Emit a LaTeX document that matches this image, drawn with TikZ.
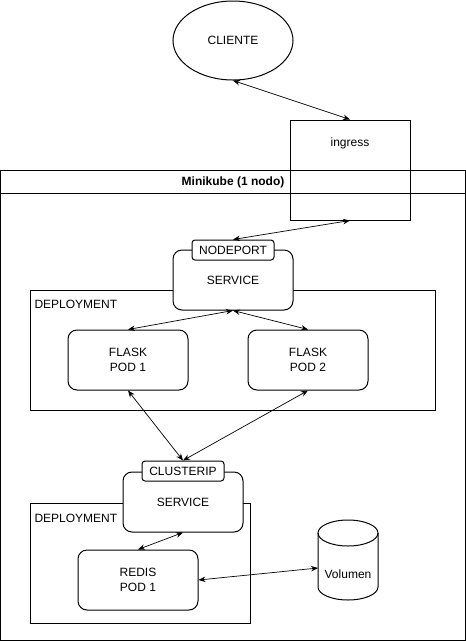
\documentclass[tikz,border=0pt]{standalone}
\usepackage{fontspec}
\setmainfont{Liberation Sans}
\usetikzlibrary{shapes.geometric,arrows.meta}
\begin{document}
\begin{tikzpicture}[x=1pt,y=-1pt,line width=1pt,font=\fontsize{12}{15}\selectfont]
	\tikzstyle{every node}+=[inner sep=0pt]
	\tikzstyle{box}=[draw,rounded corners=9pt,fill=white,minimum width=120pt,minimum height=60pt,align=center]
	\tikzstyle{tag}=[draw,rounded corners=3pt,fill=white,minimum width=82pt,minimum height=20pt]
	\tikzstyle{link}=[{Stealth[length=7pt,width=5.5pt]}-{Stealth[length=7pt,width=5.5pt]},line width=0.7pt]
	\useasboundingbox (0,0) rectangle (466,641);
	% minikube
	\draw (0.5,170.5) rectangle (465.5,640);
	\draw (0.5,193) -- (465.5,193);
	\node (minikube) at (233,182) {\bfseries Minikube (1 nodo)};
	% outside
	\node [draw,ellipse,minimum width=120pt,minimum height=79pt] (cliente) at (233,40.5) {CLIENTE};
	\node [draw,minimum width=120pt,minimum height=100pt] (ingress) at (350,170) {};
	\node (ingresstxt) at (350,143) {ingress};
	% flask
	\draw (30,290) rectangle (435,410);
	\node [anchor=west] (dep1) at (34,304) {DEPLOYMENT};
	\node [box] (svc1) at (233,280) {SERVICE};
	\node [tag] (nodeport) at (233,250) {NODEPORT};
	\node [box] (pod1) at (128,360) {FLASK\\POD 1};
	\node [box] (pod2) at (308,360) {FLASK\\POD 2};
	% redis
	\draw (30,503) rectangle (250,623);
	\node [anchor=west] (dep2) at (34,518) {DEPLOYMENT};
	\node [box] (svc2) at (183,502) {SERVICE};
	\node [tag] (clusterip) at (183,471) {CLUSTERIP};
	\node [box] (redis) at (138,580) {REDIS\\POD 1};
	% volumen
	\draw (318,533) -- (318,587) arc[start angle=180,end angle=360,x radius=30pt,y radius=13pt] -- (378,533);
	\draw (348,533) ellipse [x radius=30pt,y radius=13pt];
	\node (volumentxt) at (348,574) {Volumen};
	\coordinate (volumen) at (318,568);
	% links
	\draw [link] (cliente.south) -- (ingress.north);
	\draw [link] (ingress.south) -- (nodeport.north);
	\draw [link] (svc1.south) -- (pod1.north);
	\draw [link] (svc1.south) -- (pod2.north);
	\draw [link] (pod1.south) -- (clusterip.north);
	\draw [link] (pod2.south) -- (clusterip.north);
	\draw [link] (svc2.south) -- (redis.north);
	\draw [link] (redis.east) -- (volumen);
\end{tikzpicture}
\end{document}
